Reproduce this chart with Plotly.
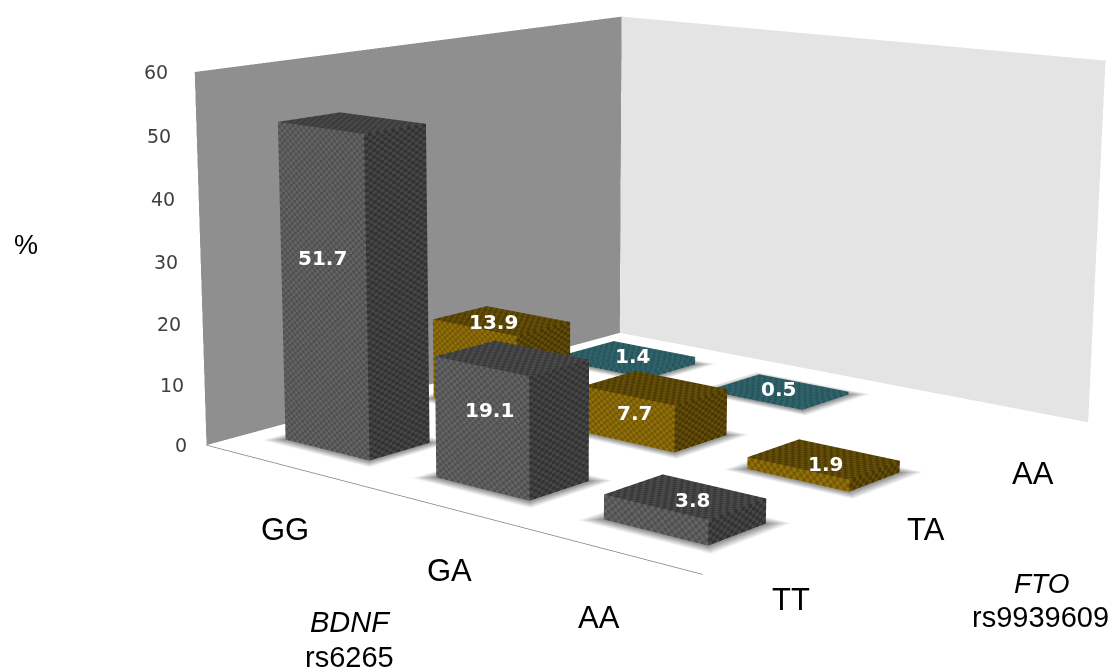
import plotly.graph_objects as go

bdnf = ["GG", "GA", "AA"]
fto = ["TT", "TA", "AA"]
series_tt = [51.7, 19.1, 3.8]
series_ta = [13.9, 7.7, 1.9]
series_aa = [1.4, 0.5, None]
z_ticks = [0, 10, 20, 30, 40, 50, 60]

W, H = 1110, 667
GX, GY = 0.2151, 0.3035   # gaps around bars, in category units
FOV = 0.2553
EYE = dict(x=2.5371, y=-3.1994, z=0.819)
CEN = dict(x=-0.0693, y=-0.1675, z=-0.1134)
AR = dict(x=1, y=1.0446, z=0.5994)

# label nudges in pixels, (dx, dy up)
label_shift = {51.7: (-1, 33), 19.1: (8, 18), 13.9: (19, 46), 7.7: (6, 6), 3.8: (37, 20),
               1.4: (26, 10), 0.5: (22, 10), 1.9: (28, 10)}
bdnf_shift = [(7, -66), (15, -66), (-9, -68)]
fto_shift = [(13, -55), (12, -39), (-1, -30)]

FLAT = dict(ambient=1, diffuse=0, specular=0, roughness=1, fresnel=0)
fig = go.Figure()
nx, ny, zmax = len(bdnf), len(fto), z_ticks[-1]


def quad(xs, ys, zs, color):
    fig.add_trace(go.Mesh3d(x=xs, y=ys, z=zs, i=[0, 0], j=[1, 2], k=[2, 3], color=color,
                            flatshading=True, lighting=FLAT, hoverinfo="skip"))


def shade(c, d):
    return "rgb(%d,%d,%d)" % tuple(max(0, min(255, v + d)) for v in c)


quad([0, 0, 0, 0], [0, ny, ny, 0], [0, 0, zmax, zmax], "#8f8f8f")
quad([0, nx, nx, 0], [ny, ny, ny, ny], [0, 0, zmax, zmax], "#e4e4e4")
fig.add_trace(go.Scatter3d(x=[0, nx], y=[0, 0], z=[0, 0], mode="lines",
                           line=dict(color="#808080", width=1.5), hoverinfo="skip"))

pal = {0: ((90, 90, 90), (60, 60, 60), (66, 66, 66), 10),
       1: ((130, 100, 4), (86, 66, 0), (90, 70, 0), 12),
       2: ((44, 92, 100), (44, 92, 100), (44, 92, 100), 7)}
CELL_X, CELL_Y, CELL_Z = 55.0, 42.0, 2.0  # hatch cells per unit of x, y, and per z percent


def face_grid(origin, du, dv, nu, nv, col, d, vx, vy, vz, I, J, K, fc):
    base = len(vx)
    for b in range(nv + 1):
        for a in range(nu + 1):
            vx.append(origin[0] + du[0] * a / nu + dv[0] * b / nv)
            vy.append(origin[1] + du[1] * a / nu + dv[1] * b / nv)
            vz.append(origin[2] + du[2] * a / nu + dv[2] * b / nv)
    for b in range(nv):
        for a in range(nu):
            p = base + b * (nu + 1) + a
            q = p + 1
            r = p + nu + 1
            s = r + 1
            I += [p, p]
            J += [q, s]
            K += [s, r]
            c = shade(col, d if (a + b) % 2 == 0 else -d)
            fc += [c, c]


ann = []
for j, vals in enumerate([series_tt, series_ta, series_aa]):
    for i, v in enumerate(vals):
        if v is None:
            continue
        x0, x1 = i + GX, i + 1 - GX
        y0, y1 = j + GY, j + 1 - GY
        # soft floor shadow
        sx, sy = 0.08, 0.08
        rx = [x0, x1, x1, x0, x0 - sx, x1 + sx, x1 + sx, x0 - sx]
        ry = [y0, y0, y1, y1, y0 - sy, y0 - sy, y1 + sy, y1 + sy]
        vc = ["rgb(140,140,140)"] * 4 + ["rgb(255,255,255)"] * 4
        RI, RJ, RK = [], [], []
        for n in range(4):
            m = (n + 1) % 4
            RI += [n, n]
            RJ += [m, m + 4]
            RK += [m + 4, n + 4]
        fig.add_trace(go.Mesh3d(x=rx, y=ry, z=[0] * 8, i=RI, j=RJ, k=RK, vertexcolor=vc,
                                lighting=FLAT, hoverinfo="skip"))
        # the bar: three visible faces with a fine hatch
        a, b, c, d = pal[j]
        wx, wy = x1 - x0, y1 - y0
        nxc = max(2, int(wx * CELL_X))
        nyc = max(2, int(wy * CELL_Y))
        nzc = max(1, int(v * CELL_Z))
        vx, vy, vz, I, J, K, fc = [], [], [], [], [], [], []
        face_grid((x0, y0, 0), (wx, 0, 0), (0, 0, v), nxc, nzc, a, d, vx, vy, vz, I, J, K, fc)
        face_grid((x1, y0, 0), (0, wy, 0), (0, 0, v), nyc, nzc, b, d, vx, vy, vz, I, J, K, fc)
        face_grid((x0, y0, v), (wx, 0, 0), (0, wy, 0), nxc, nyc, c, d, vx, vy, vz, I, J, K, fc)
        fig.add_trace(go.Mesh3d(x=vx, y=vy, z=vz, i=I, j=J, k=K, facecolor=fc, flatshading=True,
                                lighting=FLAT, hoverinfo="skip"))
        dx, dy = label_shift[v]
        ann.append(dict(x=(x0 + x1) / 2, y=y0, z=v / 2, text=f"<b>{v}</b>", showarrow=False, xshift=dx, yshift=dy,
                        font=dict(family="DejaVu Sans", size=20, color="white")))

for v in z_ticks:
    ann.append(dict(x=0, y=0, z=v, text=str(v), showarrow=False, xanchor="right", xshift=-17 - v * 0.125,
                    font=dict(family="DejaVu Sans", size=19, color="#404040")))
for i, n in enumerate(bdnf):
    ann.append(dict(x=i + .5, y=0, z=0, text=n, showarrow=False, xshift=bdnf_shift[i][0], yshift=bdnf_shift[i][1],
                    font=dict(family="Liberation Sans", size=31, color="black")))
for j, n in enumerate(fto):
    ann.append(dict(x=nx, y=j + .5, z=0, text=n, showarrow=False, xshift=fto_shift[j][0], yshift=fto_shift[j][1],
                    font=dict(family="Liberation Sans", size=31, color="black")))

ax = dict(visible=False, showgrid=False, zeroline=False, showspikes=False)
paper = [("%", 26, 245, False, 27), ("BDNF", 350, 622, True, 29), ("rs6265", 349, 657, False, 29),
         ("FTO", 1041, 583, True, 28), ("rs9939609", 1040, 617, False, 29)]
la = [dict(xref="paper", yref="paper", x=a / W, y=1 - b / H, xanchor="center", yanchor="middle",
           text=(f"<i>{t}</i>" if it else t), showarrow=False,
           font=dict(family="Liberation Sans", size=s, color="black")) for t, a, b, it, s in paper]
fig.update_layout(width=W, height=H, margin=dict(l=0, r=0, t=0, b=0), paper_bgcolor="white", showlegend=False,
                  annotations=la,
                  scene=dict(xaxis=dict(ax, range=[0, nx]), yaxis=dict(ax, range=[0, ny]),
                             zaxis=dict(ax, range=[0, zmax]), bgcolor="white",
                             aspectmode="manual", aspectratio=AR,
                             camera=dict(eye=EYE, center=CEN, up=dict(x=0, y=0, z=1),
                                         projection=dict(type="perspective")),
                             annotations=ann))
post = """document.body.style.margin='0';
var gd=document.getElementById('{plot_id}');
var gp=gd._fullLayout.scene._scene.glplot;
gp.fovy=%f; gp.redraw(); if(gp.render) gp.render();
""" % FOV
fig.write_html("out.html", config=dict(displayModeBar=False), post_script=post)
